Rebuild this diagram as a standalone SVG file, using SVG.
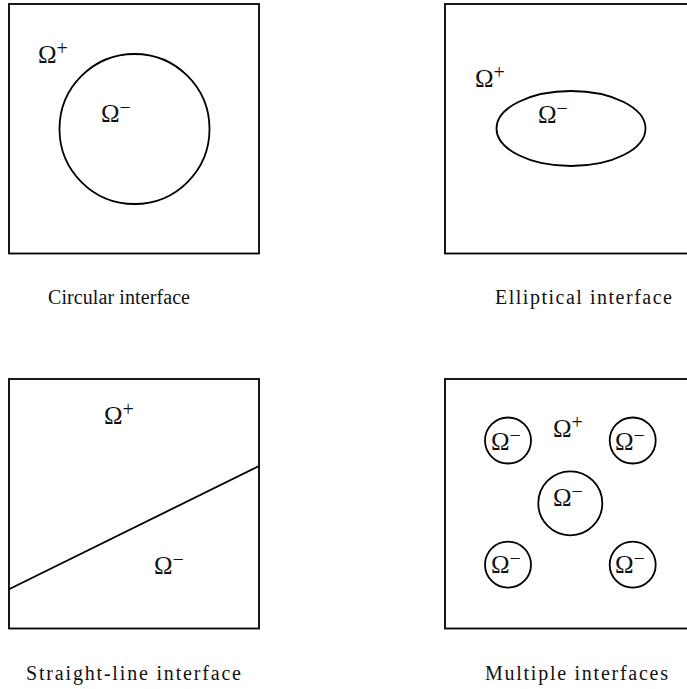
<svg xmlns="http://www.w3.org/2000/svg" width="687" height="689" viewBox="0 0 687 689">
<style>
.box{fill:none;stroke:#000;stroke-width:1.8}
.ifc{fill:none;stroke:#000;stroke-width:1.8}
.om{font-family:"Liberation Serif","DejaVu Serif",serif;font-size:25px;fill:#111}
.sup{font-size:20px}
.cap{font-family:"Liberation Serif","DejaVu Serif",serif;font-size:20px;fill:#111}
</style>
<rect width="687" height="689" fill="#fff"/>
<g id="circular">
<rect class="box" x="9" y="4" width="250" height="249.5"/>
<circle class="ifc" cx="134.5" cy="129" r="75"/>
<text class="om" x="38" y="63">Ω<tspan class="sup" dy="-8">+</tspan></text>
<text class="om" x="101" y="122">Ω<tspan class="sup" dy="-8">−</tspan></text>
<text class="cap" x="48" y="304" textLength="142">Circular interface</text>
</g>
<g id="elliptical">
<rect class="box" x="445" y="4" width="250" height="249.5"/>
<ellipse class="ifc" cx="571" cy="128.5" rx="74.5" ry="37.5"/>
<text class="om" x="475" y="87">Ω<tspan class="sup" dy="-8">+</tspan></text>
<text class="om" x="538" y="123">Ω<tspan class="sup" dy="-8">−</tspan></text>
<text class="cap" x="495" y="304" textLength="177">Elliptical interface</text>
</g>
<g id="straight">
<rect class="box" x="9" y="379" width="250" height="249.5"/>
<text class="om" x="104" y="424">Ω<tspan class="sup" dy="-8">+</tspan></text>
<text class="om" x="154" y="574">Ω<tspan class="sup" dy="-8">−</tspan></text>
<text class="cap" x="26" y="680" textLength="215">Straight-line interface</text>
</g>
<g id="multiple">
<rect class="box" x="445" y="379" width="250" height="249.5"/>
<circle class="ifc" cx="508" cy="440.5" r="23"/>
<circle class="ifc" cx="632.7" cy="440.5" r="23"/>
<circle class="ifc" cx="570.3" cy="503.3" r="32"/>
<circle class="ifc" cx="508" cy="564.7" r="23"/>
<circle class="ifc" cx="632.7" cy="564.7" r="23"/>
<text class="om" x="553" y="437">Ω<tspan class="sup" dy="-8">+</tspan></text>
<text class="om" x="491" y="450">Ω<tspan class="sup" dy="-8">−</tspan></text>
<text class="om" x="615" y="450">Ω<tspan class="sup" dy="-8">−</tspan></text>
<text class="om" x="553" y="506">Ω<tspan class="sup" dy="-8">−</tspan></text>
<text class="om" x="491" y="573">Ω<tspan class="sup" dy="-8">−</tspan></text>
<text class="om" x="615" y="573">Ω<tspan class="sup" dy="-8">−</tspan></text>
<text class="cap" x="485" y="680" textLength="183">Multiple interfaces</text>
</g>
<g id="connectors">
<line class="ifc" x1="9" y1="589.3" x2="259" y2="466"/>
</g>
</svg>
